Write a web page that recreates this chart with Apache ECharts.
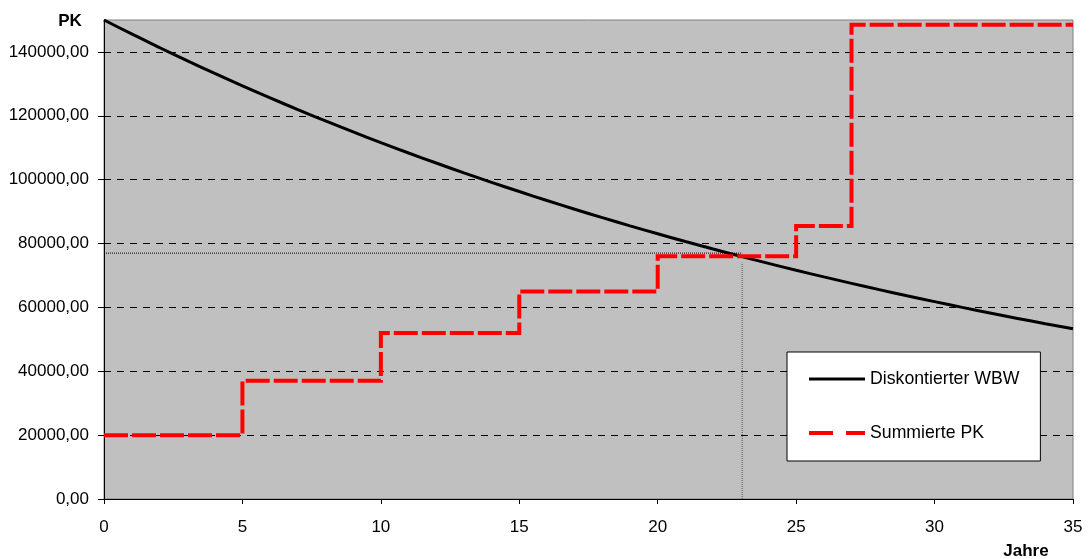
<!DOCTYPE html>
<html>
<head>
<meta charset="utf-8">
<script src="https://cdn.jsdelivr.net/npm/echarts@6/dist/echarts.min.js"></script>
<style>
  html, body { margin: 0; padding: 0; background: #ffffff; }
  #chart { width: 1091px; height: 559px; }
</style>
</head>
<body>
<div id="chart"></div>
<script>
// Jahre (x) and discounted WBW per year
const years = [0,1,2,3,4,5,6,7,8,9,10,11,12,13,14,15,16,17,18,19,20,21,22,23,24,25,26,27,28,29,30,31,32,33,34,35];
const wbwValues = [150000,145630,141390,137270,133270,129390,125620,121960,118410,114960,111610,108360,105210,102140,99170,96280,93470,90750,88110,85540,83050,80630,78280,76000,73790,71640,69550,67530,65560,63650,61800,60000,58250,56550,54910,53310];

// cumulative PK steps: year where the level starts, and the level
const pkYears = [0, 5, 10, 15, 20, 25, 27, 35];
const pkValues = [20000, 37000, 52000, 65000, 76000, 85500, 148500, 148500];

// break-even guide (year, PK level)
const breakEvenYear = 23.05;
const breakEvenLevel = 77000;
const guideBottom = 74000;

const seriesNames = ['Diskontierter WBW', 'Summierte PK'];
const yTicks = [0, 20000, 40000, 60000, 80000, 100000, 120000, 140000];
const xTickStep = 5;

const FONT = '"Liberation Sans", Arial, sans-serif';

const chart = echarts.init(document.getElementById('chart'), null, { renderer: 'canvas' });

chart.setOption({
  animation: false,
  backgroundColor: '#ffffff',
  textStyle: { fontFamily: FONT },
  grid: {
    left: 104, right: 18, top: 20, bottom: 60,
    show: true,
    backgroundColor: '#c0c0c0',
    borderColor: '#808080',
    borderWidth: 1
  },
  xAxis: {
    type: 'value',
    min: 0, max: 35, interval: xTickStep,
    axisLine: { show: true, onZero: false, lineStyle: { color: '#000', width: 1 } },
    axisTick: { show: true, inside: false, length: 5, lineStyle: { color: '#000' } },
    splitLine: { show: false },
    axisLabel: { color: '#000', fontSize: 17, fontFamily: FONT, margin: 20 }
  },
  yAxis: {
    type: 'value',
    min: 0, max: 150000, interval: 20000,
    axisLine: { show: true, lineStyle: { color: '#000', width: 1 } },
    axisTick: { show: true, inside: false, length: 6, customValues: yTicks, lineStyle: { color: '#000' } },
    splitLine: { show: true, lineStyle: { color: '#000', width: 1, type: [7, 6] } },
    axisLabel: {
      color: '#000', fontSize: 17, fontFamily: FONT, margin: 15,
      customValues: yTicks,
      formatter: function (v) { return v.toFixed(2).replace('.', ','); }
    }
  },
  legend: {
    orient: 'vertical',
    left: 787, top: 352,
    padding: [18, 21, 19, 20],
    backgroundColor: '#ffffff',
    borderColor: '#000000',
    borderWidth: 1,
    borderRadius: 0,
    itemWidth: 56,
    itemHeight: 18,
    itemGap: 36,
    textStyle: { color: '#000', fontSize: 17.7, fontFamily: FONT, lineHeight: 18 },
    data: [
      { name: seriesNames[0], itemStyle: { opacity: 0 }, lineStyle: { width: 3, color: '#000' } },
      { name: seriesNames[1], itemStyle: { opacity: 0 }, lineStyle: { width: 4, color: '#ff0000', type: [24, 13] } }
    ]
  },
  graphic: [
    { type: 'text', x: 70, y: 21,
      style: { text: 'PK', x: 0, y: 0, align: 'center', verticalAlign: 'middle',
               font: 'bold 17px ' + FONT, fill: '#000' } },
    { type: 'text', x: 1026, y: 551,
      style: { text: 'Jahre', x: 0, y: 0, align: 'center', verticalAlign: 'middle',
               font: 'bold 17px ' + FONT, fill: '#000' } }
  ],
  series: [
    {
      name: 'guide-h',
      type: 'line',
      data: [[0, breakEvenLevel], [breakEvenYear, breakEvenLevel]],
      symbol: 'none',
      silent: true,
      z: 1,
      lineStyle: { color: '#000', width: 1, type: [1, 1] }
    },
    {
      name: 'guide-v',
      type: 'line',
      data: [[breakEvenYear, 0], [breakEvenYear, guideBottom]],
      symbol: 'none',
      silent: true,
      z: 1,
      lineStyle: { color: '#555', width: 1, type: [1, 1] }
    },
    {
      name: seriesNames[0],
      type: 'line',
      data: years.map((y, i) => [y, wbwValues[i]]),
      symbol: 'none',
      smooth: true,
      z: 3,
      lineStyle: { color: '#000', width: 3 },
      itemStyle: { color: '#000' }
    },
    {
      name: seriesNames[1],
      type: 'line',
      step: 'end',
      data: pkYears.map((y, i) => [y, pkValues[i]]),
      symbol: 'none',
      z: 4,
      lineStyle: { color: '#ff0000', width: 4, type: [24, 4], cap: 'butt', join: 'miter' },
      itemStyle: { color: '#ff0000' }
    }
  ]
});
</script>
</body>
</html>
